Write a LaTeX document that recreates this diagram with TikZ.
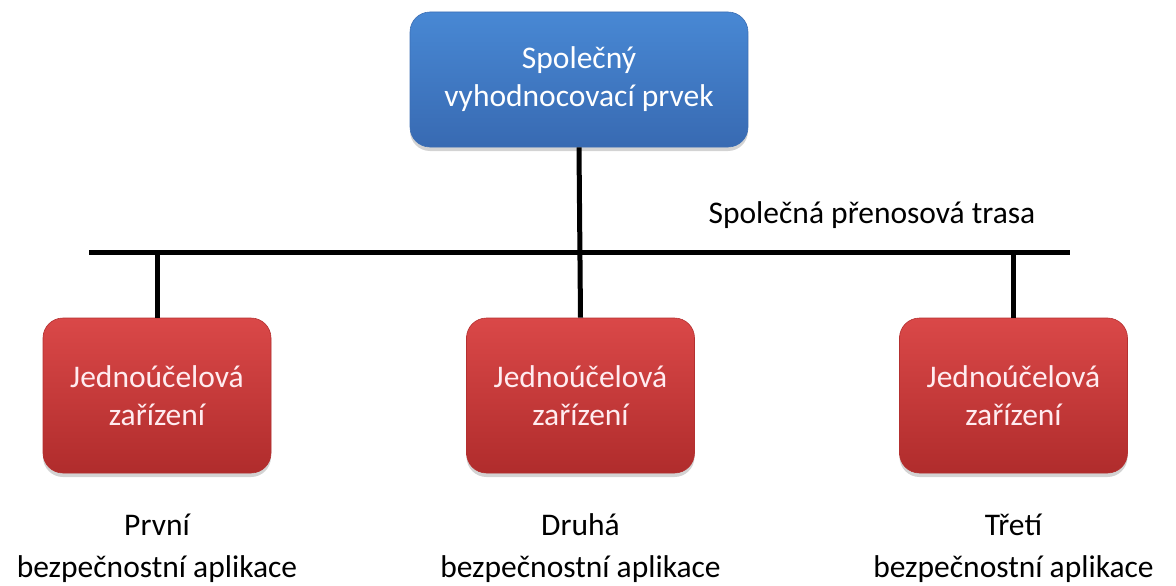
\documentclass[tikz,border=0pt]{standalone}
\usepackage{fontspec}
\setmainfont{Carlito}
\usetikzlibrary{shadows}
\definecolor{evaltop}{RGB}{72,136,212}
\definecolor{evalbot}{RGB}{56,106,178}
\definecolor{evalline}{RGB}{60,110,180}
\definecolor{devtop}{RGB}{218,72,72}
\definecolor{devbot}{RGB}{176,44,44}
\definecolor{devline}{RGB}{180,48,48}
\definecolor{devtext}{RGB}{255,236,240}
\begin{document}
\begin{tikzpicture}[x=1pt,y=-1pt,
  boxbase/.style={rectangle, rounded corners=20pt, align=center,
    font=\fontsize{31.5}{38}\selectfont,
    drop shadow={opacity=0.35, shadow xshift=0pt, shadow yshift=-4pt}},
  bluebox/.style={boxbase, minimum width=338pt, minimum height=135pt,
    top color=evaltop, bottom color=evalbot, text=white,
    draw=evalline, line width=0.6pt},
  redbox/.style={boxbase, minimum width=228pt, minimum height=155pt,
    top color=devtop, bottom color=devbot, text=devtext,
    draw=devline, line width=0.6pt},
  wire/.style={line width=5pt, black},
  caption/.style={align=center, text=black, font=\fontsize{31.5}{42}\selectfont}
]
\useasboundingbox (0,0) rectangle (1176,586);

% evaluating element at the top
\node[bluebox] (eval) at (579,79.5) {Společný\\vyhodnocovací prvek};

% single-purpose devices
\node[redbox] (dev1) at (157,395.5) {Jednoúčelová\\zařízení};
\node[redbox] (dev2) at (580.5,395.5) {Jednoúčelová\\zařízení};
\node[redbox] (dev3) at (1013.5,395.5) {Jednoúčelová\\zařízení};

% shared transmission line
\coordinate (busL) at (89,252);
\coordinate (busR) at (1070,252);
\draw[wire] (busL) -- (busR);
\node[text=black, font=\fontsize{31.5}{36}\selectfont] (buslabel) at (872,215) {Společná přenosová trasa};

% connections to the line
\draw[wire] (eval.south) -- (dev2.north);
\draw[wire] (dev1.north |- busL) -- (dev1.north);
\draw[wire] (dev3.north |- busL) -- (dev3.north);

% application captions
\node[caption] (app1) at (157,548) {První\\bezpečnostní aplikace};
\node[caption] (app2) at (580.5,548) {Druhá\\bezpečnostní aplikace};
\node[caption] (app3) at (1013.5,548) {Třetí\\bezpečnostní aplikace};
\end{tikzpicture}
\end{document}
